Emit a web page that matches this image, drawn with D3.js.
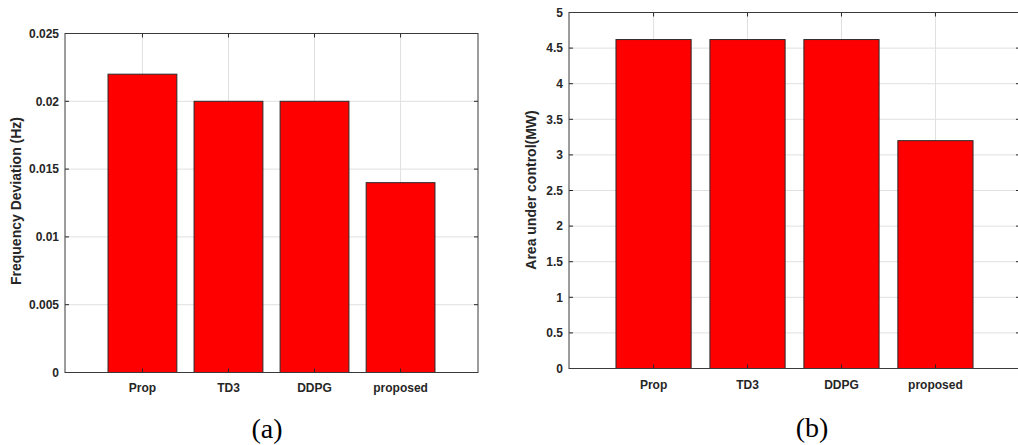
<!DOCTYPE html>
<html><head><meta charset="utf-8">
<script src="https://cdn.jsdelivr.net/npm/d3@7"></script>
<style>body{margin:0;background:#fff}svg{display:block}</style>
</head><body>
<svg id="c" width="1018" height="445"></svg>
<script>
const categories = ["Prop", "TD3", "DDPG", "proposed"];
const freqDeviation = [0.022, 0.020, 0.020, 0.014];
const areaUnderControl = [4.62, 4.62, 4.62, 3.2];
const freqTicks = [0, 0.005, 0.01, 0.015, 0.02, 0.025];
const freqTickLabels = ["0", "0.005", "0.01", "0.015", "0.02", "0.025"];
const areaTicks = [0, 0.5, 1, 1.5, 2, 2.5, 3, 3.5, 4, 4.5, 5];
const areaTickLabels = ["0", "0.5", "1", "1.5", "2", "2.5", "3", "3.5", "4", "4.5", "5"];

const svg = d3.select("#c");
const FONT = "'Liberation Sans', Arial, sans-serif";
const AX = "#262626";

function panel(cfg) {
  const g = svg.append("g");
  const x = d3.scaleLinear().domain([0.1, 4.9]).range([cfg.left, cfg.right]);
  const y = d3.scaleLinear().domain(cfg.ydomain).range([cfg.bottom, cfg.top]);
  const idx = categories.map((c, i) => i + 1);

  // grid
  g.selectAll(".gy").data(cfg.ticks).enter().append("line")
    .attr("x1", cfg.left).attr("x2", cfg.right)
    .attr("y1", d => y(d)).attr("y2", d => y(d))
    .attr("stroke", "#e0e0e0").attr("stroke-width", 1);
  g.selectAll(".gx").data(idx).enter().append("line")
    .attr("x1", d => x(d)).attr("x2", d => x(d))
    .attr("y1", cfg.top).attr("y2", cfg.bottom)
    .attr("stroke", "#e0e0e0").attr("stroke-width", 1);

  // bars
  const bw = x(1.8) - x(1);
  g.selectAll(".bar").data(cfg.values).enter().append("rect")
    .attr("x", (d, i) => x(i + 1) - bw / 2)
    .attr("width", bw)
    .attr("y", d => y(d))
    .attr("height", d => y(0) - y(d))
    .attr("fill", "#ff0000").attr("stroke", "#2a2a2a").attr("stroke-width", 1);

  // tick marks (inward) all sides
  const tl = 4;
  g.selectAll(".tl").data(cfg.ticks).enter().append("line")
    .attr("x1", cfg.left).attr("x2", cfg.left + tl)
    .attr("y1", d => y(d)).attr("y2", d => y(d)).attr("stroke", AX);
  g.selectAll(".tr").data(cfg.ticks).enter().append("line")
    .attr("x1", cfg.right).attr("x2", cfg.right - tl)
    .attr("y1", d => y(d)).attr("y2", d => y(d)).attr("stroke", AX);
  g.selectAll(".tb").data(idx).enter().append("line")
    .attr("x1", d => x(d)).attr("x2", d => x(d))
    .attr("y1", cfg.bottom).attr("y2", cfg.bottom - tl).attr("stroke", AX);
  g.selectAll(".tt").data(idx).enter().append("line")
    .attr("x1", d => x(d)).attr("x2", d => x(d))
    .attr("y1", cfg.top).attr("y2", cfg.top + tl).attr("stroke", AX);

  // box
  g.append("rect").attr("x", cfg.left).attr("y", cfg.top)
    .attr("width", cfg.right - cfg.left).attr("height", cfg.bottom - cfg.top)
    .attr("fill", "none").attr("stroke", "#3a3a3a").attr("stroke-width", 1);

  // y tick labels
  g.selectAll(".yl").data(cfg.ticks).enter().append("text")
    .attr("x", cfg.left - 6).attr("y", d => y(d)).attr("dy", "0.35em")
    .attr("text-anchor", "end").attr("font-family", FONT).attr("font-weight", "bold")
    .attr("font-size", 12).attr("fill", AX)
    .text((d, i) => cfg.tickLabels[i]);

  // x tick labels
  g.selectAll(".xl").data(categories).enter().append("text")
    .attr("x", (d, i) => x(i + 1)).attr("y", cfg.xlabelY)
    .attr("text-anchor", "middle").attr("font-family", FONT).attr("font-weight", "bold")
    .attr("font-size", 12).attr("fill", AX)
    .text(d => d);

  // y label
  g.append("text")
    .attr("transform", `translate(${cfg.ylabelX},${cfg.ylabelYc}) rotate(-90)`)
    .attr("text-anchor", "middle").attr("font-family", FONT).attr("font-weight", "bold")
    .attr("font-size", 14).attr("fill", AX)
    .text(cfg.ylabel);

  // panel caption
  svg.append("text").attr("x", cfg.capX).attr("y", cfg.capY)
    .attr("text-anchor", "middle").attr("font-family", "'Liberation Serif', 'Times New Roman', serif")
    .attr("font-size", 28).attr("fill", "#000").text(cfg.caption);
}

panel({
  left: 65, right: 478, top: 33.5, bottom: 372.5,
  ydomain: [0, 0.025], ticks: freqTicks, tickLabels: freqTickLabels,
  values: freqDeviation, xlabelY: 392, ylabel: "Frequency Deviation (Hz)",
  ylabelX: 21, ylabelYc: 201, caption: "(a)", capX: 267, capY: 438
});

panel({
  left: 569, right: 1020, top: 12.5, bottom: 368.5,
  ydomain: [0, 5], ticks: areaTicks, tickLabels: areaTickLabels,
  values: areaUnderControl, xlabelY: 388.5, ylabel: "Area under control(MW)",
  ylabelX: 536, ylabelYc: 190, caption: "(b)", capX: 812, capY: 437
});
</script>
</body></html>
